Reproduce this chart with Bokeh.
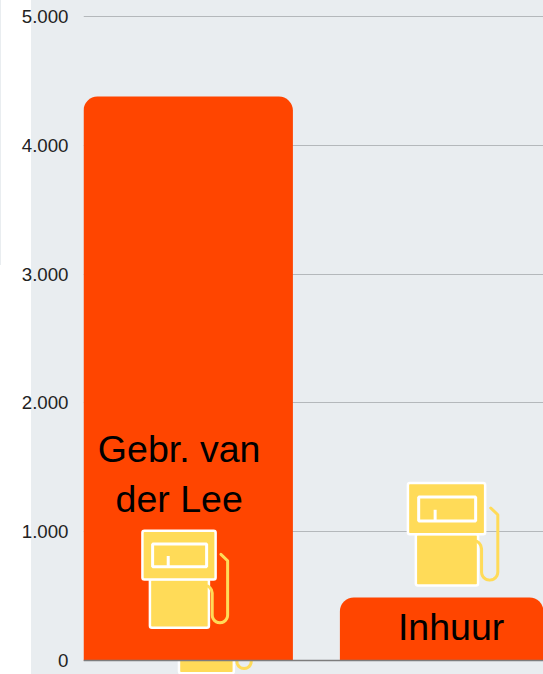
import math
from bokeh.embed import file_html
from bokeh.models import FixedTicker, Range1d, Span
from bokeh.plotting import figure
from bokeh.resources import INLINE
from bokeh.core.properties import value

# --- data -------------------------------------------------------------
categories = ["Gebr. van\nder Lee", "Inhuur"]
bar_x = [0, 1]
bar_values = [4378, 489]
label_x = [-0.034, 1.024]
label_values = [1450, 260]
tick_values = [0, 1000, 2000, 3000, 4000, 5000]
tick_labels = ["0", "1.000", "2.000", "3.000", "4.000", "5.000"]
# fuel pump decorations: horizontal position, height of base, relative size
pump_back = {"x": [0.072], "y": [-99], "size": [0.93]}
pump_front = {"x": [-0.033, 1.008], "y": [254, 583], "size": [1.0, 1.055]}

# --- scale constants --------------------------------------------------
W, H = 543, 674
LEFT = 83
PX_X = 257.0          # px per category step
PX_Y = 0.1288         # px per value unit
ZERO_PY = 660
BAR0_PX = 187.4

x_start = (LEFT - BAR0_PX) / PX_X
x_end = (W - BAR0_PX) / PX_X
y_start = -(H - ZERO_PY) / PX_Y
y_end = ZERO_PY / PX_Y

BG = "#e9edf0"
ORANGE = "#ff4500"
YELLOW = "#ffdb58"
FONT = "Liberation Sans"

p = figure(width=W, height=H, output_backend="svg", toolbar_location=None,
           x_range=Range1d(x_start, x_end), y_range=Range1d(y_start, y_end),
           min_border_left=LEFT, min_border_right=0, min_border_top=0, min_border_bottom=0,
           x_axis_location=None)
p.outline_line_color = None
p.background_fill_color = BG
p.border_fill_alpha = 0
# white strip at the left of the page, with a thin edge along its upper part
p.styles = {"background": f"linear-gradient({BG},{BG}) 0 0/1px 265px no-repeat, "
                          f"linear-gradient(to right, #ffffff 31px, {BG} 31px)"}
p.xgrid.visible = False

# y axis
ax = p.yaxis[0]
ax.ticker = FixedTicker(ticks=tick_values)
ax.major_label_overrides = dict(zip(tick_values, tick_labels))
ax.axis_line_color = None
ax.major_tick_line_color = None
ax.minor_tick_line_color = None
ax.major_label_standoff = 9
ax.major_label_text_font = FONT
ax.major_label_text_font_size = "18.7px"
ax.major_label_text_color = "#222222"
p.ygrid.ticker = FixedTicker(ticks=tick_values)
p.ygrid.grid_line_color = "#b4b8bb"
p.ygrid.grid_line_width = 1.2


def draw_pump(cx, base, s):
    """cx, base in data units; shape measured in px around base centre."""
    def X(px):
        return cx + px * s / PX_X

    def Y(py):
        return base + py * s / PX_Y

    # body
    p.quad(left=[X(-29.5)], right=[X(29.5)], bottom=[Y(0)], top=[Y(48.7)],
           fill_color=YELLOW, line_color="white", line_width=2.5, border_radius=2)
    # head
    p.quad(left=[X(-37)], right=[X(36.2)], bottom=[Y(48.4)], top=[Y(97)],
           fill_color=YELLOW, line_color="white", line_width=2.5, border_radius=2)
    # window
    p.quad(left=[X(-26.8)], right=[X(27.2)], bottom=[Y(61)], top=[Y(83.7)],
           fill_color=None, line_color="white", line_width=3)
    # needle
    p.segment(x0=[X(-11.2)], x1=[X(-11.2)], y0=[Y(61)], y1=[Y(71.7)], line_color="white", line_width=3)
    # hose
    hx = [41.5, 48.2, 48.2]
    hy = [73.4, 67, 12.7]
    for i in range(0, 13):
        a = math.pi * i / 12
        hx.append(40.5 + 7.7 * math.cos(a))
        hy.append(12.7 - 7.7 * math.sin(a))
    hx += [32.8, 32.0, 30.5, 28.5]
    hy += [34.7, 38.0, 40.2, 41.7]
    p.line([X(v) for v in hx], [Y(v) for v in hy], line_color=YELLOW, line_width=3,
           line_cap="round", line_join="round")


for x, y, s in zip(pump_back["x"], pump_back["y"], pump_back["size"]):
    draw_pump(x, y, s)

# bars
p.vbar(x=bar_x, top=bar_values, bottom=0, width=210 / PX_X, fill_color=ORANGE, line_color=None,
       border_radius=(14, 14, 0, 0))

for x, y, s in zip(pump_front["x"], pump_front["y"], pump_front["size"]):
    draw_pump(x, y, s)

# baseline
p.add_layout(Span(location=0, dimension="width", line_color="#7d7d7d", line_width=1.5))

# labels
p.text(x=label_x, y=label_values, text=categories, text_align="center",
       text_baseline="middle", text_font=value(FONT), text_font_size="37.5px", text_color="#000000",
       text_line_height=1.2)

open("out.html", "w").write(file_html(p, INLINE))
